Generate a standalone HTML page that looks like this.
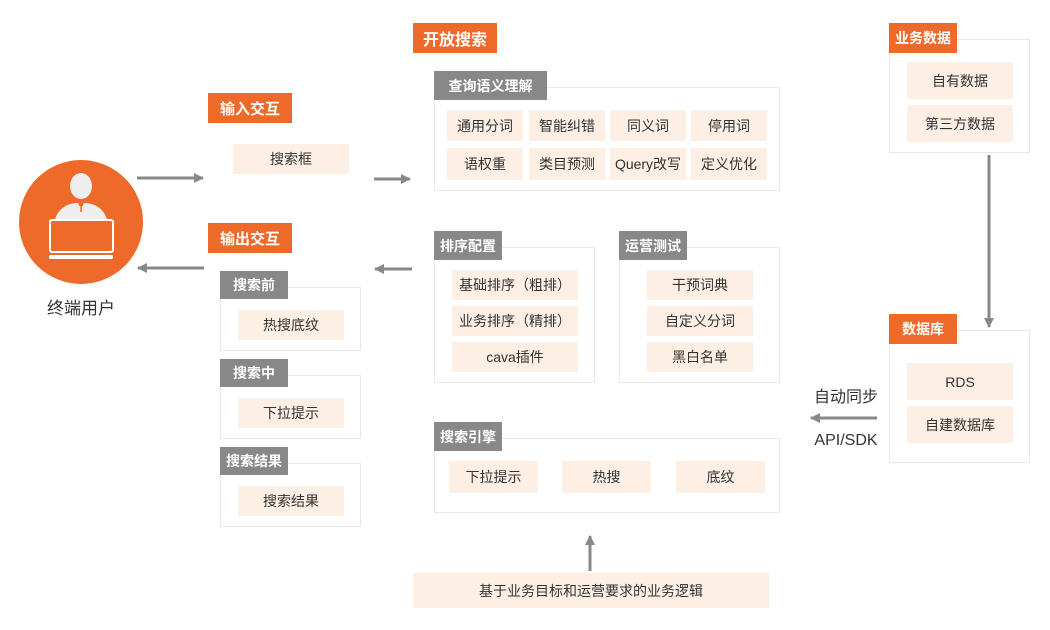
<!DOCTYPE html>
<html><head><meta charset="utf-8"><style>
body{margin:0;width:1050px;height:630px;background:#fff;position:relative;overflow:hidden;font-family:"Liberation Sans","Noto Sans CJK SC",sans-serif;}
div{position:absolute;box-sizing:border-box;}
.o{background:#ee6a2a;color:#fff;font-size:15px;font-weight:bold;display:flex;align-items:center;justify-content:center;}
.g{background:#888;color:#fff;font-size:14px;font-weight:bold;display:flex;align-items:center;justify-content:center;}
.b{border:1px solid #e8e8e8;background:#fff;}
.c{background:#fdefe4;color:#333;font-size:14px;display:flex;align-items:center;justify-content:center;}
.t{color:#333;font-size:16px;text-align:center;}
</style></head><body>
<svg width="1050" height="630" style="position:absolute;left:0;top:0">
<defs><marker id="a" markerWidth="10" markerHeight="10" refX="9" refY="5" orient="auto" markerUnits="userSpaceOnUse"><path d="M0,0 L10,5 L0,10z" fill="#888"/></marker></defs>
<circle cx="81" cy="222" r="62" fill="#ee6a2a"/>
<ellipse cx="81" cy="186" rx="11" ry="13" fill="#eee"/>
<path d="M55,219 Q60,205 75,203 L87,203 Q102,205 107,219z" fill="#eee"/>
<circle cx="81" cy="204" r="2.5" fill="#ee6a2a"/><line x1="81" y1="205" x2="81" y2="212" stroke="#ee6a2a" stroke-width="1.5"/>
<rect x="50" y="220" width="63" height="32" rx="2" fill="#ee6a2a" stroke="#fff" stroke-width="2"/>
<rect x="49" y="255" width="64" height="4" rx="1.5" fill="#fff"/>
<g stroke="#888" stroke-width="3">
<line x1="137" y1="178" x2="203" y2="178" marker-end="url(#a)"/>
<line x1="204" y1="268" x2="138" y2="268" marker-end="url(#a)"/>
<line x1="374" y1="179" x2="410" y2="179" marker-end="url(#a)"/>
<line x1="412" y1="269" x2="375" y2="269" marker-end="url(#a)"/>
<line x1="590" y1="571" x2="590" y2="536" marker-end="url(#a)"/>
<line x1="989" y1="155" x2="989" y2="327" marker-end="url(#a)"/>
<line x1="877" y1="418" x2="811" y2="418" marker-end="url(#a)"/>
</g></svg>
<div class="t" style="left:31px;top:294px;width:100px;font-size:17px">终端用户</div>

<div class="o" style="left:208px;top:93px;width:84px;height:30px">输入交互</div>
<div class="c" style="left:233px;top:144px;width:116px;height:30px">搜索框</div>
<div class="o" style="left:208px;top:223px;width:84px;height:30px">输出交互</div>

<div class="b" style="left:220px;top:287px;width:141px;height:64px"></div>
<div class="g" style="left:220px;top:271px;width:68px;height:28px">搜索前</div>
<div class="c" style="left:238px;top:310px;width:106px;height:30px">热搜底纹</div>
<div class="b" style="left:220px;top:375px;width:141px;height:64px"></div>
<div class="g" style="left:220px;top:359px;width:68px;height:28px">搜索中</div>
<div class="c" style="left:238px;top:398px;width:106px;height:30px">下拉提示</div>
<div class="b" style="left:220px;top:463px;width:141px;height:64px"></div>
<div class="g" style="left:220px;top:447px;width:68px;height:28px">搜索结果</div>
<div class="c" style="left:238px;top:486px;width:106px;height:30px">搜索结果</div>

<div class="o" style="left:413px;top:23px;width:84px;height:30px;font-size:16px">开放搜索</div>
<div class="b" style="left:434px;top:87px;width:346px;height:104px"></div>
<div class="g" style="left:434px;top:71px;width:113px;height:29px">查询语义理解</div>
<div class="c" style="left:447px;top:110px;width:76px;height:31px">通用分词</div>
<div class="c" style="left:529px;top:110px;width:76px;height:31px">智能纠错</div>
<div class="c" style="left:610px;top:110px;width:76px;height:31px">同义词</div>
<div class="c" style="left:691px;top:110px;width:76px;height:31px">停用词</div>
<div class="c" style="left:447px;top:148px;width:76px;height:32px">语权重</div>
<div class="c" style="left:529px;top:148px;width:76px;height:32px">类目预测</div>
<div class="c" style="left:610px;top:148px;width:76px;height:32px">Query改写</div>
<div class="c" style="left:691px;top:148px;width:76px;height:32px">定义优化</div>

<div class="b" style="left:434px;top:247px;width:161px;height:136px"></div>
<div class="g" style="left:434px;top:231px;width:68px;height:29px">排序配置</div>
<div class="c" style="left:452px;top:270px;width:126px;height:30px">基础排序（粗排）</div>
<div class="c" style="left:452px;top:306px;width:126px;height:30px">业务排序（精排）</div>
<div class="c" style="left:452px;top:342px;width:126px;height:30px">cava插件</div>

<div class="b" style="left:619px;top:247px;width:161px;height:136px"></div>
<div class="g" style="left:619px;top:231px;width:68px;height:29px">运营测试</div>
<div class="c" style="left:647px;top:270px;width:106px;height:30px">干预词典</div>
<div class="c" style="left:647px;top:306px;width:106px;height:30px">自定义分词</div>
<div class="c" style="left:647px;top:342px;width:106px;height:30px">黑白名单</div>

<div class="b" style="left:434px;top:438px;width:346px;height:75px"></div>
<div class="g" style="left:434px;top:422px;width:68px;height:29px">搜索引擎</div>
<div class="c" style="left:449px;top:461px;width:89px;height:32px">下拉提示</div>
<div class="c" style="left:562px;top:461px;width:89px;height:32px">热搜</div>
<div class="c" style="left:676px;top:461px;width:89px;height:32px">底纹</div>

<div class="c" style="left:413px;top:573px;width:356px;height:35px">基于业务目标和运营要求的业务逻辑</div>

<div class="b" style="left:889px;top:39px;width:141px;height:114px"></div>
<div class="o" style="left:889px;top:23px;width:68px;height:30px;font-size:14px">业务数据</div>
<div class="c" style="left:907px;top:62px;width:106px;height:37px">自有数据</div>
<div class="c" style="left:907px;top:105px;width:106px;height:37px">第三方数据</div>

<div class="b" style="left:889px;top:330px;width:141px;height:133px"></div>
<div class="o" style="left:889px;top:314px;width:68px;height:30px;font-size:14px">数据库</div>
<div class="c" style="left:907px;top:363px;width:106px;height:37px">RDS</div>
<div class="c" style="left:907px;top:406px;width:106px;height:37px">自建数据库</div>

<div class="t" style="left:806px;top:383px;width:80px">自动同步</div>
<div class="t" style="left:806px;top:432px;width:80px">API/SDK</div>
</body></html>
